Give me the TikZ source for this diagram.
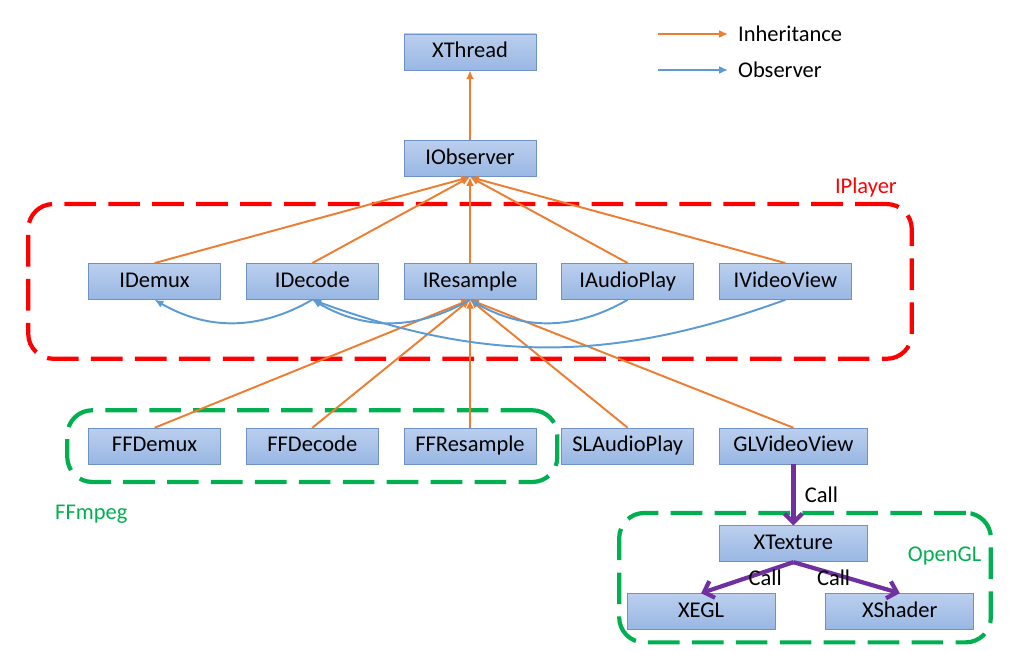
\documentclass[tikz,border=0pt]{standalone}
\usepackage{fontspec}
\setmainfont{Carlito}
\usetikzlibrary{arrows.meta,fit,positioning}
\definecolor{inhorange}{RGB}{237,125,49}
\definecolor{obsblue}{RGB}{91,155,213}
\definecolor{callpurple}{RGB}{112,48,160}
\definecolor{grpgreen}{RGB}{0,176,80}
\definecolor{boxtop}{RGB}{187,207,238}
\definecolor{boxbot}{RGB}{152,183,227}
\definecolor{boxline}{RGB}{110,145,198}
\tikzset{
	-Latex,auto,node distance =0.5 cm and 0.5 cm,semithick,
}

\begin{document}
\begin{tikzpicture}[
	font=\fontsize{12.8}{15}\selectfont,
	cls/.style={draw=boxline, thin, top color=boxtop, bottom color=boxbot, minimum width=2.64cm, minimum height=0.72cm, inner sep=0pt, text height=0.8em, text depth=0.16em},
	clsw/.style={cls, minimum width=2.96cm},
	inh/.style={draw=inhorange, line width=1.1pt, -{Latex[length=5pt,width=4.5pt]}},
	obs/.style={draw=obsblue, line width=1.1pt, -{Latex[length=5pt,width=4.5pt]}},
	call/.style={draw=callpurple, line width=2.4pt, -{Straight Barb[length=5pt,width=10pt]}},
	grp/.style={draw, line width=2.4pt, rounded corners=0.5cm, dash pattern=on 18pt off 7pt},
	lbl/.style={inner sep=1pt},
	]
	\useasboundingbox (0,0) rectangle (20.46,-13.02);

	%legend
	\coordinate (inhstart) at (13.16,-0.68);
	\coordinate (inhend) at (14.56,-0.68);
	\node[lbl, anchor=west] (inhlbl) at (14.72,-0.68) {Inheritance};
	\coordinate (obsstart) at (13.16,-1.40);
	\coordinate (obsend) at (14.56,-1.40);
	\node[lbl, anchor=west] (obslbl) at (14.72,-1.40) {Observer};

	%base classes
	\node[cls] (xthread) at (9.4,-1.04) {XThread};
	\node[cls] (iobs) [below = 1.4cm of xthread] {IObserver};
	%interfaces
	\node[cls] (ires) [below = 1.72cm of iobs] {IResample};
	\node[cls] (idec) [left = of ires] {IDecode};
	\node[cls] (idemux) [left = of idec] {IDemux};
	\node[cls] (iaudio) [right = of ires] {IAudioPlay};
	\node[cls] (ivideo) [right = of iaudio] {IVideoView};
	%implementations
	\node[cls] (ffres) [below = 2.56cm of ires] {FFResample};
	\node[cls] (ffdec) [left = of ffres] {FFDecode};
	\node[cls] (ffdemux) [left = of ffdec] {FFDemux};
	\node[cls] (slaudio) [right = of ffres] {SLAudioPlay};
	\node[clsw] (glvideo) [right = of slaudio] {GLVideoView};
	%opengl
	\node[clsw] (xtex) [below = 1.22cm of glvideo] {XTexture};
	\node[clsw] (xegl) [below left = 0.62cm and 0.36cm of xtex.south] {XEGL};
	\node[clsw] (xshader) [below right = 0.62cm and 0.64cm of xtex.south] {XShader};
	\node[lbl, text=grpgreen] (opengllbl) [right = 0.76cm of xtex, yshift=-0.24cm] {OpenGL};

	%groups
	\node[grp, draw=red, fit=(idemux)(ivideo), inner xsep=1.2cm, inner ysep=1.18cm] (iplayer) {};
	\node[grp, draw=grpgreen, fit=(ffdemux)(ffres), inner xsep=0.42cm, inner ysep=0.35cm] (ffmpeg) {};
	\node[grp, draw=grpgreen, fit=(xtex)(xegl)(xshader)(opengllbl), inner xsep=0.15cm, inner ysep=0.25cm] (opengl) {};
	\node[lbl, text=red] (iplayerlbl) [above left = 0.05cm and 0.3cm of iplayer.north east] {IPlayer};
	\node[lbl, text=grpgreen, anchor=west] (ffmpeglbl) at ([xshift=-0.24cm, yshift=-0.6cm]ffmpeg.south west) {FFmpeg};

	%inheritance
	\path (inhstart) edge[inh] (inhend);
	\path (iobs.north) edge[inh] (xthread.south);
	\path (idemux.north) edge[inh] (iobs.south);
	\path (idec.north) edge[inh] (iobs.south);
	\path (ires.north) edge[inh] (iobs.south);
	\path (iaudio.north) edge[inh] (iobs.south);
	\path (ivideo.north) edge[inh] (iobs.south);
	\path (ffdemux.north) edge[inh] (ires.south);
	\path (ffdec.north) edge[inh] (ires.south);
	\path (ffres.north) edge[inh] (ires.south);
	\path (slaudio.north) edge[inh] (ires.south);
	\path (glvideo.north) edge[inh] (ires.south);

	%observer
	\path (obsstart) edge[obs] (obsend);
	\path (idec.south) edge[obs, bend left=30] (idemux.south);
	\path (ires.south) edge[obs, bend left=30] (idec.south);
	\path (iaudio.south) edge[obs, bend left=30] (ires.south);
	\path (ivideo.south) edge[obs, bend left=20] (idec.south);

	%calls
	\path (glvideo.south) edge[call] node[right, xshift=2pt] {Call} (xtex.north);
	\path (xtex.south) edge[call] node[anchor=center, xshift=0.36cm] {Call} (xegl.north);
	\path (xtex.south) edge[call] node[anchor=center, xshift=-0.26cm] {Call} (xshader.north);

\end{tikzpicture}
\end{document}
